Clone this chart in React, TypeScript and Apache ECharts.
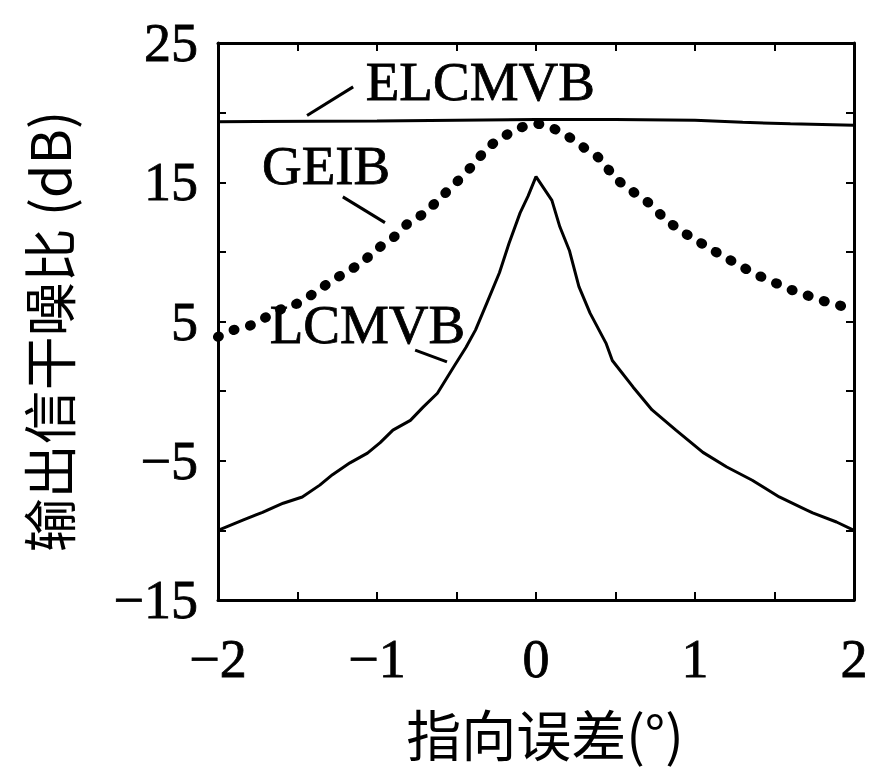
import React, { useEffect, useRef } from "react";
import * as echarts from "echarts";

// ---- data ----
const elcmvbX = [-2, -1, 0, 0.5, 1, 1.3, 1.6, 2];
const elcmvbY = [19.35, 19.4, 19.5, 19.5, 19.45, 19.3, 19.2, 19.1];

const geibX = [-2.0, -1.9, -1.8, -1.7, -1.6, -1.5, -1.4, -1.3, -1.2, -1.1, -1.0, -0.9, -0.8, -0.7, -0.6, -0.5, -0.4, -0.3, -0.2, -0.1, 0.0,
  0.1, 0.2, 0.3, 0.4, 0.5, 0.6, 0.7, 0.8, 0.9, 1.0, 1.1, 1.2, 1.3, 1.4, 1.5, 1.6, 1.7, 1.8, 1.9, 2.0];
const geibY = [3.9, 4.4, 4.7, 5.3, 5.9, 6.3, 7.0, 7.8, 8.5, 9.2, 10.2, 11.0, 12.1, 12.8, 13.9, 15.0, 16.2, 17.5, 18.3, 18.9, 19.2,
  18.9, 18.3, 17.5, 16.7, 15.3, 14.4, 13.6, 12.5, 11.6, 10.9, 10.2, 9.55, 8.9, 8.3, 7.8, 7.3, 6.9, 6.5, 6.2, 5.7];

const lcmvbX = [-2.0, -1.84, -1.72, -1.59, -1.47, -1.36, -1.28, -1.17, -1.06, -0.98, -0.9, -0.79, -0.71, -0.62, -0.52, -0.44, -0.38,
  -0.31, -0.23, -0.17, -0.1, -0.05, 0.0, 0.1, 0.15, 0.21, 0.27, 0.34, 0.44, 0.48, 0.61, 0.73, 0.88, 1.05, 1.2, 1.36, 1.53, 1.74, 1.89, 2.0];
const lcmvbY = [-10.0, -9.25, -8.7, -8.05, -7.6, -6.75, -6.0, -5.15, -4.45, -3.7, -2.8, -2.1, -1.15, -0.15, 1.7, 3.15, 4.4,
  6.3, 8.5, 10.6, 12.8, 14.0, 15.4, 13.7, 11.8, 10.1, 7.5, 5.6, 3.45, 2.2, 0.3, -1.35, -2.8, -4.4, -5.45, -6.4, -7.6, -8.75, -9.4, -10.0];

// annotation labels (data coordinates)
const labelNames = ["ELCMVB", "GEIB", "LCMVB"];
const labelAt = [[-0.35, 22.2], [-1.32, 16.2], [-1.06, 4.75]];
const leaderFrom = [[-1.44, 19.8], [-1.215, 13.95], [-0.76, 2.95]];
const leaderTo = [[-1.15, 21.85], [-0.95, 12.1], [-0.56, 2.1]];

const xTicks = [-2, -1, 0, 1, 2];
const yTicks = [-15, -5, 5, 15, 25];

const zip = (xs: number[], ys: number[]) => xs.map((x, i) => [x, ys[i]]);
const fmt = (v: number) => (v < 0 ? "\u2212" + Math.abs(v) : String(v));

const serif = "Liberation Serif";
const cjk = "Noto Sans CJK SC";
const thick = { textBorderColor: "#000", textBorderWidth: 0.8 };

export default function App() {
  const ref = useRef<HTMLDivElement>(null);
  useEffect(() => {
    const chart = echarts.init(ref.current!, null, { renderer: "svg" });
    const annot = (i: number) => ({
      markPoint: {
        silent: true,
        symbol: "circle",
        symbolSize: 0,
        label: {
          show: true,
          position: "inside",
          formatter: labelNames[i],
          color: "#000",
          fontFamily: serif,
          fontSize: 55,
          ...thick,
        },
        data: [{ coord: labelAt[i] }],
      },
      markLine: {
        silent: true,
        symbol: "none",
        label: { show: false },
        lineStyle: { color: "#000", width: 3, type: "solid" },
        data: [[{ coord: leaderFrom[i] }, { coord: leaderTo[i] }]],
      },
    });
    const axisCommon = {
      type: "value" as const,
      axisLine: { show: true, onZero: false, lineStyle: { color: "#000", width: 3 } },
      axisTick: { show: true, inside: true, length: 8, lineStyle: { color: "#000", width: 2 } },
      splitLine: { show: false },
    };
    chart.setOption({
      animation: false,
      backgroundColor: "#fff",
      grid: { left: 218, right: 20, top: 43, bottom: 172, containLabel: false },
      xAxis: [
        {
          ...axisCommon,
          min: -2,
          max: 2,
          interval: 0.5,
          position: "bottom",
          name: "指向误差(°)",
          nameLocation: "middle",
          nameGap: 104,
          nameTextStyle: { fontFamily: cjk, fontSize: 55, color: "#000", padding: [0, 0, 0, 18] },
          axisLabel: {
            margin: 32,
            fontFamily: serif,
            fontSize: 54,
            color: "#000",
            ...thick,
            formatter: (v: number) => (xTicks.includes(v) ? fmt(v) : ""),
          },
        },
        { ...axisCommon, min: -2, max: 2, interval: 0.5, position: "top", axisLabel: { show: false } },
      ],
      yAxis: [
        {
          ...axisCommon,
          min: -15,
          max: 25,
          interval: 5,
          position: "left",
          name: "输出信干噪比 (dB)",
          nameLocation: "middle",
          nameGap: 144,
          nameRotate: 90,
          nameTextStyle: { fontFamily: cjk, fontSize: 54, color: "#000", padding: [0, 20, 0, 0] },
          axisLabel: {
            margin: 20,
            fontFamily: serif,
            fontSize: 54,
            color: "#000",
            ...thick,
            formatter: (v: number) => (yTicks.includes(v) ? fmt(v) : ""),
          },
        },
        { ...axisCommon, min: -15, max: 25, interval: 5, position: "right", axisLabel: { show: false } },
      ],
      series: [
        {
          name: "ELCMVB",
          type: "line",
          data: zip(elcmvbX, elcmvbY),
          showSymbol: false,
          lineStyle: { color: "#000", width: 3 },
          ...annot(0),
        },
        {
          name: "GEIB",
          type: "line",
          data: zip(geibX, geibY),
          showSymbol: false,
          smooth: 0.3,
          lineStyle: { color: "#000", width: 10, type: [1, 16], cap: "round" },
          ...annot(1),
        },
        {
          name: "LCMVB",
          type: "line",
          data: zip(lcmvbX, lcmvbY),
          showSymbol: false,
          lineStyle: { color: "#000", width: 3 },
          ...annot(2),
        },
      ],
    });
    return () => chart.dispose();
  }, []);
  return <div ref={ref} style={{ position: "fixed", left: 0, top: 0, width: 874, height: 772 }} />;
}
